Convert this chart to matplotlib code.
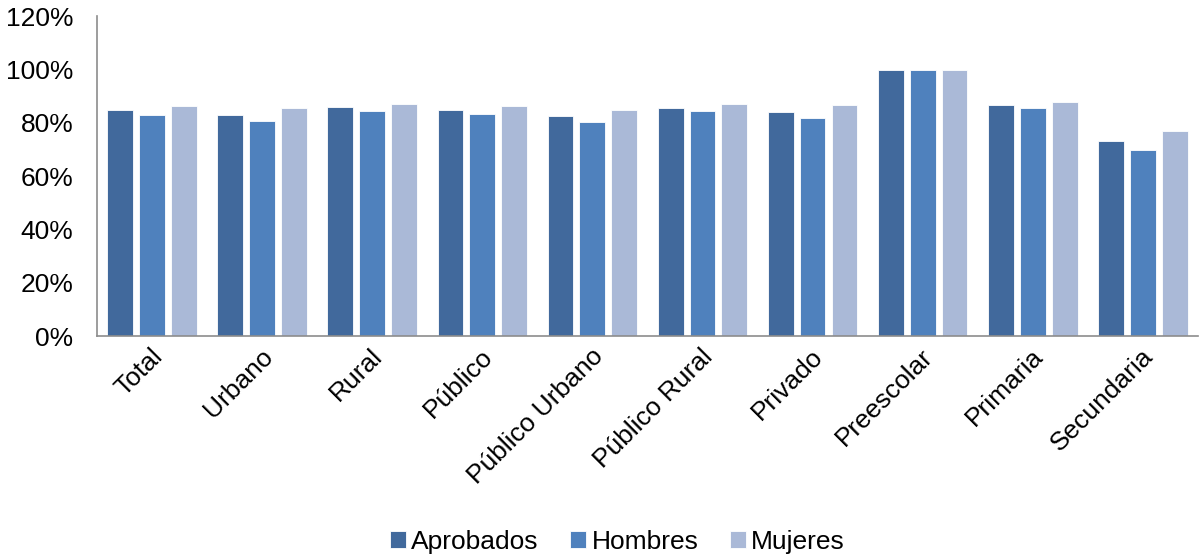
import numpy as np
import matplotlib.pyplot as plt
from matplotlib.ticker import PercentFormatter

categorias = ['Total', 'Urbano', 'Rural', 'Público', 'Público Urbano',
              'Público Rural', 'Privado', 'Preescolar', 'Primaria', 'Secundaria']
aprobados = [84.7, 83.0, 85.9, 84.9, 82.5, 85.7, 84.1, 99.8, 86.6, 73.1]
hombres = [82.9, 80.6, 84.5, 83.4, 80.2, 84.5, 81.9, 99.8, 85.4, 69.7]
mujeres = [86.5, 85.5, 87.0, 86.4, 84.9, 87.1, 86.6, 99.8, 87.9, 76.8]

series = ['Aprobados', 'Hombres', 'Mujeres']
colores = ['#41699C', '#4F81BD', '#AAB9D7']

plt.rcParams['font.family'] = ['Liberation Sans', 'DejaVu Sans']

fig = plt.figure(figsize=(11.99, 5.6), dpi=100)
ax = fig.add_axes([0.081, 0.4, 0.918, 0.571])

x = np.arange(len(categorias))
paso = 0.29
ancho = 0.235
for i, (vals, nombre, c) in enumerate(zip([aprobados, hombres, mujeres], series, colores)):
    ax.bar(x + (i - 1) * paso, np.array(vals) / 100, ancho, color=c,
           edgecolor='white', linewidth=0.6, label=nombre)

ax.set_xlim(-0.5, len(categorias) - 0.5)
ax.set_ylim(0, 1.2)
ax.set_yticks(np.arange(0, 1.21, 0.2))
ax.yaxis.set_major_formatter(PercentFormatter(1.0, decimals=0))
ax.tick_params(axis='y', length=0, labelsize=19, pad=17)
ax.tick_params(axis='x', length=0, labelsize=19, pad=12)
ax.set_xticks(x + 0.06)
ax.set_xticklabels(categorias, rotation=45, ha='right', va='center',
                   rotation_mode='anchor')

for s in ['top', 'right']:
    ax.spines[s].set_visible(False)
for s in ['left', 'bottom']:
    ax.spines[s].set_color('#8C8C8C')
    ax.spines[s].set_linewidth(1.2)

fig.legend(loc='center', bbox_to_anchor=(0.515, 0.032), ncol=3, frameon=False,
           fontsize=19, handlelength=0.6, handleheight=0.6, handletextpad=0.2,
           columnspacing=1.2)

fig.savefig('out.png', dpi=100)
